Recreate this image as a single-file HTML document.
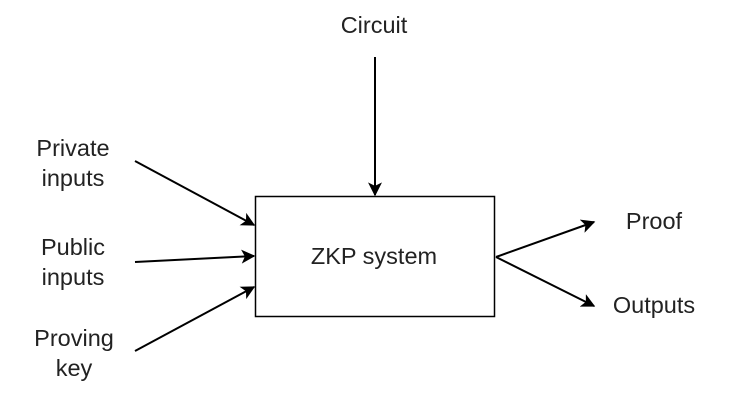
<!DOCTYPE html>
<html><head><style>html,body{margin:0;padding:0;background:#fff;}</style></head>
<body>
<svg width="750" height="402" viewBox="0 0 750 402" xmlns="http://www.w3.org/2000/svg">
<defs>
<marker id="b" viewBox="0 0 10 10" markerWidth="14" markerHeight="14" refX="9" refY="5" orient="auto" markerUnits="userSpaceOnUse"><path d="M0,0 L10,5 L0,10 L2.5,5 Z" fill="#000"/></marker></defs>
<rect x="255.5" y="196.5" width="239" height="120" fill="#fff" stroke="#000" stroke-width="1.5"/>
<g stroke="#000" stroke-width="2" fill="none">
<line x1="135" y1="161" x2="254" y2="225" marker-end="url(#b)"/>
<line x1="135" y1="262" x2="254" y2="256" marker-end="url(#b)"/>
<line x1="135" y1="351" x2="254" y2="287" marker-end="url(#b)"/>
<line x1="375" y1="57" x2="375" y2="195" marker-end="url(#b)"/>
<line x1="496" y1="257" x2="594" y2="222" marker-end="url(#b)"/>
<line x1="496" y1="257" x2="594" y2="306" marker-end="url(#b)"/>
</g>
<g font-family="Liberation Sans, sans-serif" font-size="23.5" fill="#222" text-anchor="middle">
<text x="374" y="33">Circuit</text>
<text x="73" y="156">Private</text><text x="73" y="186">inputs</text>
<text x="73" y="255">Public</text><text x="73" y="285">inputs</text>
<text x="74" y="346">Proving</text><text x="74" y="376">key</text>
<text x="374" y="264">ZKP system</text>
<text x="654" y="229">Proof</text>
<text x="654" y="313">Outputs</text>
</g>
</svg>
</body></html>
